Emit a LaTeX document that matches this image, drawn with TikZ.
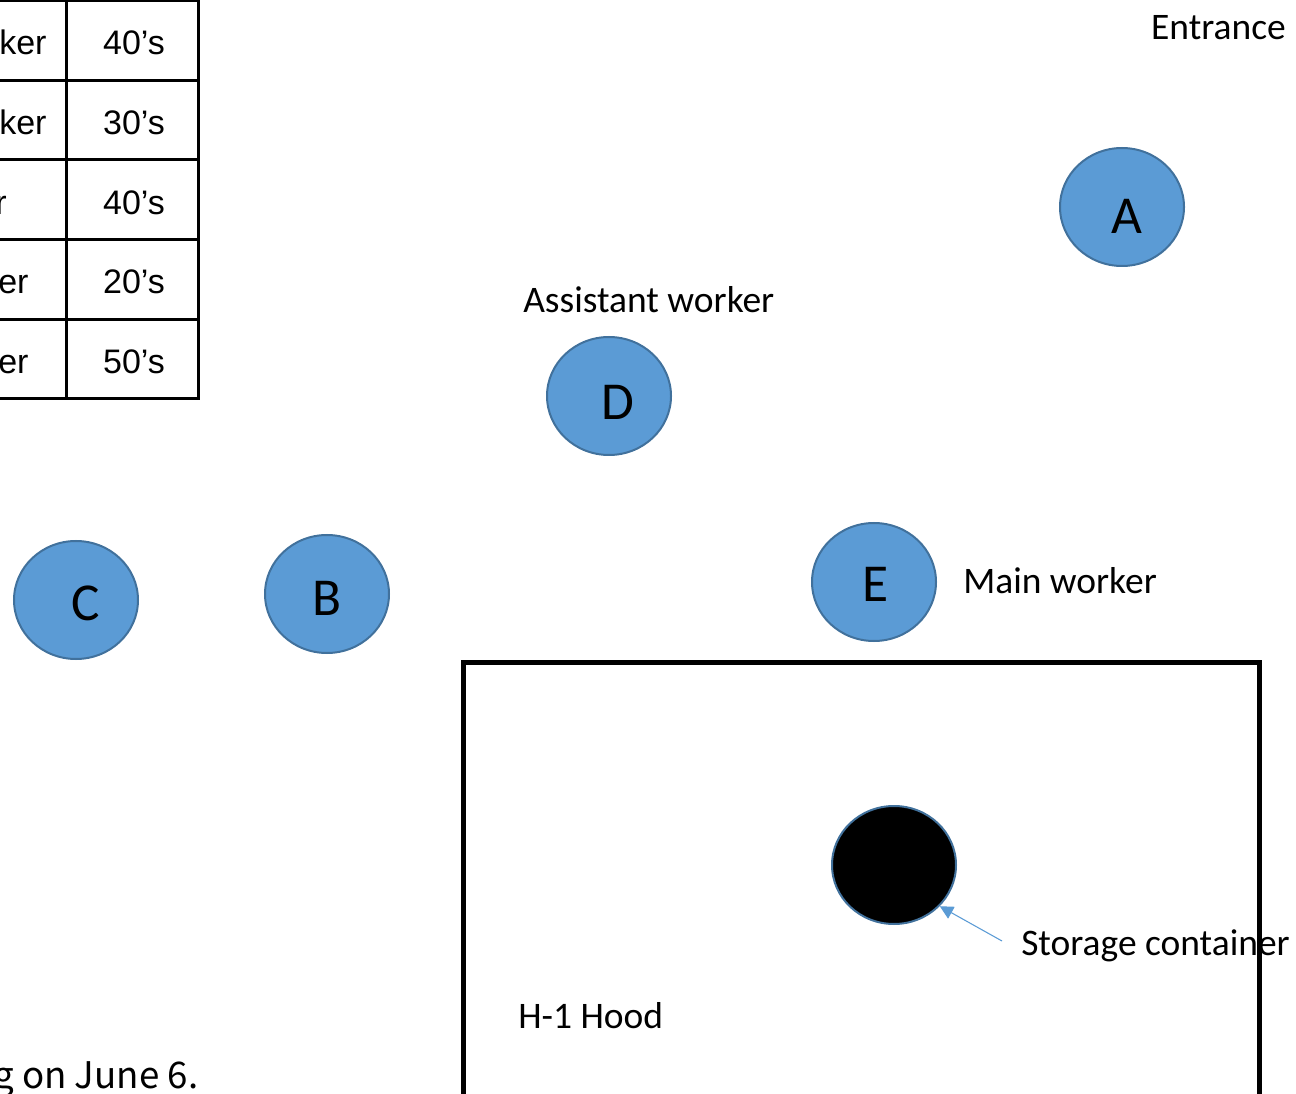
\documentclass[tikz,border=0pt]{standalone}
\usepackage{fontspec}
\setmainfont{Carlito}
\newfontfamily\arialf{Liberation Sans}
\newfontfamily\jpf{Noto Sans CJK JP}
\usetikzlibrary{shapes.geometric,arrows.meta}
\definecolor{wblue}{HTML}{5B9BD5}
\definecolor{wedge}{HTML}{41719C}
\tikzset{
  worker/.style={ellipse,draw=wedge,line width=1.5pt,fill=wblue,minimum width=93pt,minimum height=88.5pt,inner sep=0pt},
  letter/.style={font=\fontsize{40pt}{40pt}\selectfont,inner sep=0pt},
  lbl/.style={inner sep=0pt,font=\fontsize{28.1pt}{28.1pt}\selectfont},
  tcell/.style={inner sep=0pt,font=\arialf\fontsize{25.5pt}{25.5pt}\selectfont},
  tline/.style={line width=2.25pt},
  hood/.style={line width=3.75pt},
  pointer/.style={draw=wblue,line width=0.8pt,-{Triangle[length=10pt,width=10pt]}}
}
\begin{document}
\begin{tikzpicture}[x=0.75pt,y=-0.75pt]
\clip (0,0) rectangle (1296,1094);
% table
\draw[tline] (-5,1) -- (198,1);
\draw[tline] (-5,81) -- (198,81);
\draw[tline] (-5,160) -- (198,160);
\draw[tline] (-5,240) -- (198,240);
\draw[tline] (-5,320) -- (198,320);
\draw[tline] (-5,399) -- (199,399);
\draw[tline] (66,-5) -- (66,399);
\draw[tline] (198,-5) -- (198,400);
\node[tcell,anchor=base west] (t1l) at (-1,55) {ker};
\node[tcell,anchor=base west] (t2l) at (-1,135) {ker};
\node[tcell,anchor=base west] (t3l) at (-5,215) {r};
\node[tcell,anchor=base west] (t4l) at (-2,294) {er};
\node[tcell,anchor=base west] (t5l) at (-2,374) {er};
\node[tcell,anchor=base] (t1r) at (134,55) {40’s};
\node[tcell,anchor=base] (t2r) at (134,135) {30’s};
\node[tcell,anchor=base] (t3r) at (134,215) {40’s};
\node[tcell,anchor=base] (t4r) at (134,294) {20’s};
\node[tcell,anchor=base] (t5r) at (134,374) {50’s};
% labels
\node[lbl,anchor=base east] (entr) at (1286,40) {Entrance};
\node[lbl,anchor=base west] (asst) at (523,313) {Assistant worker};
\node[lbl,anchor=base west] (mainw) at (963,594) {Main worker};
\node[lbl,anchor=base west] (hoodl) at (518,1028) {H-1 Hood};
\node[inner sep=0pt,anchor=base west,font=\jpf\fontsize{27.5pt}{27.5pt}\selectfont] (note) at (-7,1088) {g on June 6.};
% hood
\draw[hood] (463,1110) -- (463,662) -- (1259,662) -- (1259,1110);
% workers
\node[worker] (A) at (1122,207) {};
\node[worker] (D) at (609,396) {};
\node[worker] (E) at (874,582) {};
\node[worker] (B) at (327,594) {};
\node[worker] (C) at (76,600) {};
\node[letter] (Al) at ([shift={(5,9)}]A.center) {A};
\node[letter] (Dl) at ([shift={(9,6)}]D.center) {D};
\node[letter] (El) at ([shift={(2,2)}]E.center) {E};
\node[letter] (Bl) at ([shift={(0,4)}]B.center) {B};
\node[letter] (Cl) at ([shift={(10,3)}]C.center) {C};
% storage container
\node[ellipse,draw=wedge,line width=1.5pt,fill=black,minimum width=93pt,minimum height=88.5pt] (cont) at (894,865) {};
\node[lbl,anchor=base west] (contl) at (1021,955) {Storage container};
\coordinate (arrs) at (1002,941);
\draw[pointer] (arrs) -- (cont.-42);
\end{tikzpicture}
\end{document}
